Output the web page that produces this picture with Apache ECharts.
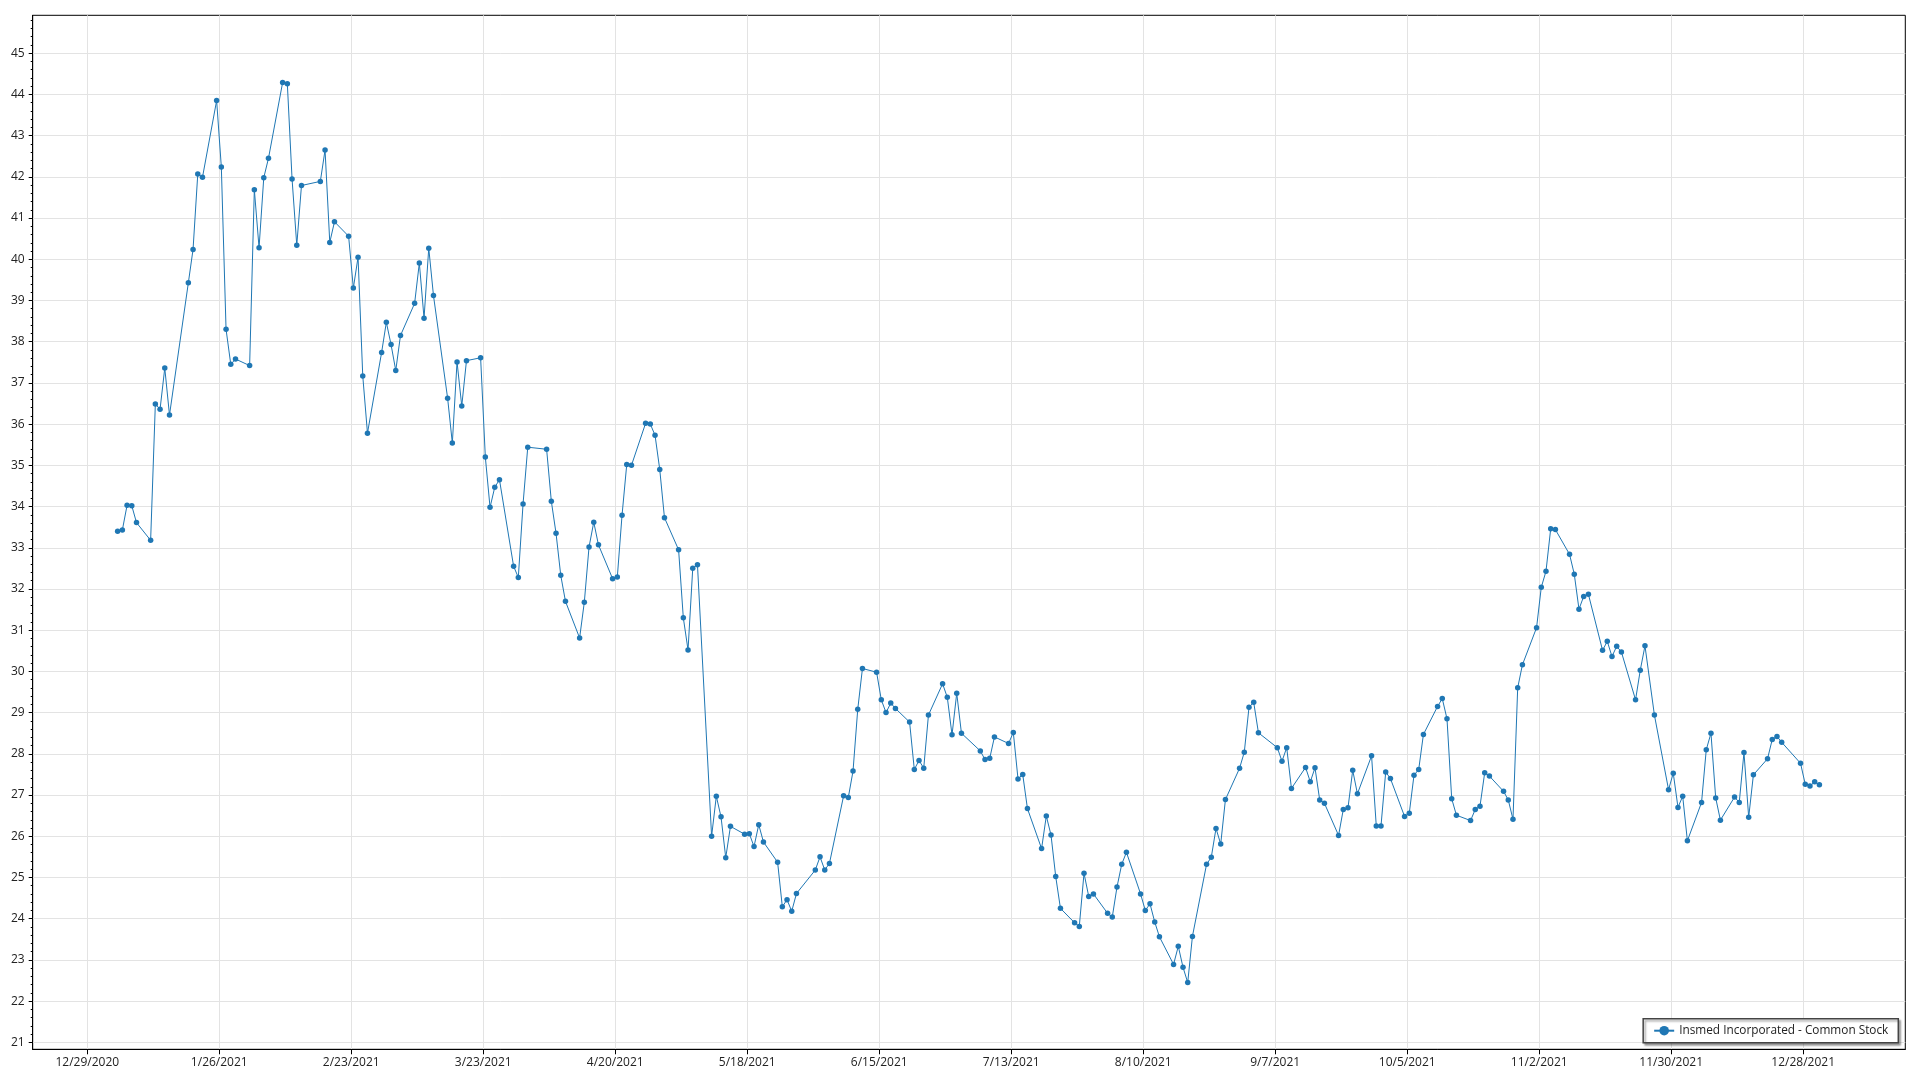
<!DOCTYPE html>
<html><head><meta charset="utf-8">
<script src="https://cdn.jsdelivr.net/npm/echarts@6/dist/echarts.min.js"></script>
<style>html,body{margin:0;padding:0;background:#fff}#chart{width:1920px;height:1080px}</style>
</head><body><div id="chart"></div>
<script>
const seriesName = 'Insmed Incorporated - Common Stock';
const xTickLabels = ['12/29/2020','1/26/2021','2/23/2021','3/23/2021','4/20/2021','5/18/2021','6/15/2021','7/13/2021','8/10/2021','9/7/2021','10/5/2021','11/2/2021','11/30/2021','12/28/2021'];
const yTickLabels = [21,22,23,24,25,26,27,28,29,30,31,32,33,34,35,36,37,38,39,40,41,42,43,44,45];

const janDays = [4,5,6,7,8,11,12,13,14,15,19,20,21,22,25,26,27,28,29];
const janClose = [33.40,33.43,34.03,34.02,33.61,33.18,36.49,36.36,37.36,36.22,39.43,40.24,42.07,41.99,43.85,42.24,38.30,37.45,37.58];
const febDays = [1,2,3,4,5,8,9,10,11,12,16,17,18,19,22,23,24,25,26];
const febClose = [37.42,41.69,40.28,41.98,42.45,44.29,44.26,41.95,40.34,41.79,41.89,42.65,40.41,40.91,40.56,39.30,40.05,37.17,35.78];
const marDays = [1,2,3,4,5,8,9,10,11,12,15,16,17,18,19,22,23,24,25,26,29,30,31];
const marClose = [37.74,38.47,37.93,37.30,38.15,38.93,39.91,38.57,40.27,39.12,36.63,35.54,37.51,36.44,37.54,37.61,35.20,33.98,34.47,34.65,32.55,32.28,34.06];
const aprDays = [1,5,6,7,8,9,12,13,14,15,16,19,20,21,22,23,26,27,28,29,30];
const aprClose = [35.44,35.39,34.13,33.35,32.33,31.70,30.81,31.68,33.02,33.62,33.07,32.25,32.29,33.79,35.02,35.00,36.02,36.00,35.73,34.90,33.73];
const mayDays = [3,4,5,6,7,10,11,12,13,14,17,18,19,20,21,24,25,26,27,28];
const mayClose = [32.95,31.30,30.52,32.50,32.59,26.00,26.97,26.47,25.48,26.24,26.05,26.06,25.75,26.28,25.86,25.37,24.29,24.46,24.18,24.61];
const junDays = [1,2,3,4,7,8,9,10,11,14,15,16,17,18,21,22,23,24,25,28,29,30];
const junClose = [25.18,25.50,25.18,25.34,26.98,26.94,27.58,29.08,30.07,29.98,29.31,29.00,29.23,29.10,28.77,27.62,27.84,27.65,28.94,29.70,29.37,28.46];
const julDays = [1,2,6,7,8,9,12,13,14,15,16,19,20,21,22,23,26,27,28,29,30];
const julClose = [29.47,28.50,28.07,27.86,27.89,28.41,28.25,28.52,27.39,27.50,26.67,25.70,26.49,26.03,25.02,24.25,23.90,23.81,25.10,24.54,24.60];
const augDays = [2,3,4,5,6,9,10,11,12,13,16,17,18,19,20,23,24,25,26,27,30,31];
const augClose = [24.13,24.04,24.77,25.32,25.61,24.60,24.20,24.36,23.92,23.56,22.89,23.33,22.82,22.45,23.57,25.32,25.49,26.19,25.81,26.89,27.65,28.04];
const sepDays = [1,2,3,7,8,9,10,13,14,15,16,17,20,21,22,23,24,27,28,29,30];
const sepClose = [29.13,29.25,28.51,28.15,27.82,28.15,27.16,27.67,27.32,27.66,26.88,26.80,26.02,26.65,26.69,27.60,27.03,27.95,26.25,26.25,27.56];
const octDays = [1,4,5,6,7,8,11,12,13,14,15,18,19,20,21,22,25,26,27,28,29];
const octClose = [27.40,26.48,26.56,27.48,27.62,28.47,29.15,29.34,28.85,26.91,26.51,26.38,26.65,26.73,27.54,27.46,27.09,26.88,26.41,29.60,30.16];
const novDays = [1,2,3,4,5,8,9,10,11,12,15,16,17,18,19,22,23,24,26,29,30];
const novClose = [31.06,32.04,32.43,33.46,33.44,32.84,32.36,31.51,31.82,31.87,30.51,30.73,30.36,30.61,30.47,29.31,30.03,30.62,28.94,27.13,27.53];
const decDays = [1,2,3,6,7,8,9,10,13,14,15,16,17,20,21,22,23,27,28,29,30,31];
const decClose = [26.70,26.97,25.89,26.82,28.10,28.50,26.93,26.39,26.95,26.82,28.03,26.46,27.49,27.88,28.35,28.42,28.28,27.77,27.26,27.22,27.32,27.25];

const months = [
  [janDays, janClose],[febDays, febClose],[marDays, marClose],[aprDays, aprClose],
  [mayDays, mayClose],[junDays, junClose],[julDays, julClose],[augDays, augClose],
  [sepDays, sepClose],[octDays, octClose],[novDays, novClose],[decDays, decClose]
];

const DAY = 86400000;
function parseMDY(s){ const p = s.split('/').map(Number); return Date.UTC(p[2], p[0]-1, p[1]); }
const labelByTs = {};
const xTickValues = xTickLabels.map(s => { const t = parseMDY(s); labelByTs[t] = s; return t; });

const points = [];
months.forEach(([days, vals], mi) => {
  days.forEach((d, i) => points.push([Date.UTC(2021, mi, d, 10, 30), vals[i]]));
});

const xMin = xTickValues[0] - 11.58 * DAY;
const xMax = xTickValues[0] + 385.66 * DAY;
const yMin = 20.83, yMax = 45.92;
const minorY = [];
for (let v = 21; v < 45.95; v += 0.2) { const r = Math.round(v * 10) / 10; if (Math.abs(r - Math.round(r)) > 1e-6 && r > yMin && r < yMax) minorY.push(r); }

const FONT = '"Segoe UI", "Open Sans", "Noto Sans", sans-serif';
const chart = echarts.init(document.getElementById('chart'), null, {renderer: 'canvas'});
chart.setOption({
  animation: false,
  backgroundColor: '#ffffff',
  textStyle: {fontFamily: FONT},
  grid: {left: 32.7, right: 14.7, top: 15.3, bottom: 30.7, show: true, borderColor: '#000', borderWidth: 1, containLabel: false},
  xAxis: {
    type: 'value', min: xMin, max: xMax,
    axisLine: {show: true, onZero: false, lineStyle: {color: '#000', width: 1}},
    axisTick: {show: true, length: 5, lineStyle: {color: '#000'}, customValues: xTickValues},
    axisLabel: {customValues: xTickValues, margin: 7, color: '#222', fontSize: 12, fontFamily: FONT,
      formatter: v => labelByTs[v] || ''},
    splitLine: {show: true, lineStyle: {color: '#e3e3e3', width: 1}}
  },
  yAxis: [{
    type: 'value', min: yMin, max: yMax,
    axisLine: {show: true, lineStyle: {color: '#000', width: 1}},
    axisTick: {show: true, length: 4, lineStyle: {color: '#000'}, customValues: yTickLabels},
    axisLabel: {customValues: yTickLabels, margin: 8, color: '#222', fontSize: 12, fontFamily: FONT},
    splitLine: {show: true, lineStyle: {color: '#e3e3e3', width: 1}}
  }, {
    type: 'value', min: yMin, max: yMax, position: 'left',
    axisLine: {show: false},
    axisTick: {show: true, length: 2, lineStyle: {color: '#000'}, customValues: minorY},
    axisLabel: {show: false},
    splitLine: {show: false}
  }],
  legend: {
    show: true, right: 21.7, bottom: 37.3, orient: 'horizontal',
    padding: [6, 10, 6, 10], itemWidth: 20, itemHeight: 12, itemGap: 5,
    backgroundColor: '#fff', borderColor: '#444', borderWidth: 1.5, borderRadius: 0,
    shadowColor: 'rgba(0,0,0,0.35)', shadowBlur: 2, shadowOffsetX: 2, shadowOffsetY: 2,
    textStyle: {color: '#222', fontSize: 11.8, fontFamily: FONT},
    data: [{name: seriesName}]
  },
  series: [{
    name: seriesName, type: 'line', data: points,
    xAxisIndex: 0, yAxisIndex: 0,
    symbol: 'circle', symbolSize: 5.5, showSymbol: true, showAllSymbol: true,
    lineStyle: {color: '#1f77b4', width: 1},
    itemStyle: {color: '#1f77b4'},
    emphasis: {disabled: true}
  }]
});
</script>
</body></html>
